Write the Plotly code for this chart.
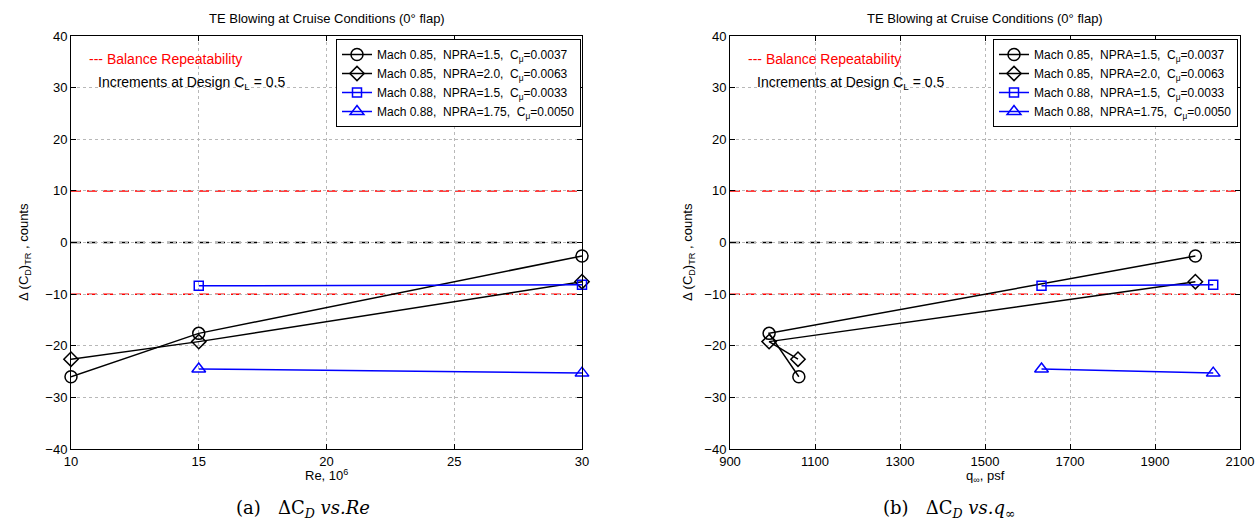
import plotly.graph_objects as go

W, H = 1256, 531

# ---- data ----
re_circle = [10, 15, 30]
q_circle = [1062, 992, 1995]
dcd_circle = [-26.0, -17.6, -2.6]

re_diamond = [10, 15, 30]
q_diamond = [1060, 992, 1995]
dcd_diamond = [-22.6, -19.2, -7.6]

re_square = [15, 30]
q_square = [1633, 2037]
dcd_square = [-8.4, -8.2]

re_tri = [15, 30]
q_tri = [1633, 2037]
dcd_tri = [-24.5, -25.3]

names = [
    "Mach 0.85,  NPRA=1.5,  C<sub>μ</sub>=0.0037",
    "Mach 0.85,  NPRA=2.0,  C<sub>μ</sub>=0.0063",
    "Mach 0.88,  NPRA=1.5,  C<sub>μ</sub>=0.0033",
    "Mach 0.88,  NPRA=1.75,  C<sub>μ</sub>=0.0050",
]
re_ticks = [10, 15, 20, 25, 30]
q_ticks = [900, 1100, 1300, 1500, 1700, 1900, 2100]
y_ticks = [-40, -30, -20, -10, 0, 10, 20, 30, 40]
ref_black = [0]
ref_red = [-10, 10]

FONT = "Liberation Sans, Arial, sans-serif"
SERIF = "DejaVu Serif, serif"

# plot-area pixel boxes
L1, R1 = 71, 582
L2, R2 = 730, 1240
TOP, BOT = 36, 449

def px(x):
    return x / W

def py(y):
    return 1 - y / H

fig = go.Figure()

series = [
    (re_circle, q_circle, dcd_circle, "circle-open", "black", 12),
    (re_diamond, q_diamond, dcd_diamond, "diamond-open", "black", 11),
    (re_square, q_square, dcd_square, "square-open", "blue", 9),
    (re_tri, q_tri, dcd_tri, "triangle-up-open", "blue", 12),
]

for i, (re, q, d, sym, col, sz) in enumerate(series):
    fig.add_trace(go.Scatter(
        x=re, y=d, mode="lines+markers", name=names[i], cliponaxis=False,
        line=dict(color=col, width=1.5),
        marker=dict(symbol=sym, size=sz, color=col, line=dict(width=1.5, color=col)),
        xaxis="x", yaxis="y", legend="legend"))
for i, (re, q, d, sym, col, sz) in enumerate(series):
    fig.add_trace(go.Scatter(
        x=q, y=d, mode="lines+markers", name=names[i], cliponaxis=False,
        line=dict(color=col, width=1.5),
        marker=dict(symbol=sym, size=sz, color=col, line=dict(width=1.5, color=col)),
        xaxis="x2", yaxis="y2", legend="legend2"))

shapes = []
for xr, yr in (("x domain", "y"), ("x2 domain", "y2")):
    for v in ref_black:
        shapes.append(dict(type="line", xref=xr, yref=yr, x0=0, x1=1, y0=v, y1=v,
                           line=dict(color="black", width=1.5, dash="10px,6px"), layer="below"))
    for v in ref_red:
        shapes.append(dict(type="line", xref=xr, yref=yr, x0=0, x1=1, y0=v, y1=v,
                           line=dict(color="red", width=1.5, dash="10px,6px"), layer="below"))

axis_common = dict(
    showline=True, linecolor="black", linewidth=1, mirror="ticks",
    ticks="inside", ticklen=5, tickcolor="black",
    showgrid=True, gridcolor="#b8b8b8", griddash="dot", gridwidth=1,
    zeroline=False, automargin=False,
    tickfont=dict(family=FONT, size=13, color="black"),
)

fig.update_layout(
    template="none",
    width=W, height=H,
    margin=dict(l=0, r=0, t=0, b=0, autoexpand=False),
    paper_bgcolor="white", plot_bgcolor="white",
    font=dict(family=FONT, color="black"),
    xaxis=dict(domain=[px(L1), px(R1)], range=[10, 30], tickvals=re_ticks, anchor="y", **axis_common),
    yaxis=dict(domain=[py(BOT), py(TOP)], range=[-40, 40], tickvals=y_ticks, anchor="x", **axis_common),
    xaxis2=dict(domain=[px(L2), px(R2)], range=[900, 2100], tickvals=q_ticks, anchor="y2", **axis_common),
    yaxis2=dict(domain=[py(BOT), py(TOP)], range=[-40, 40], tickvals=y_ticks, anchor="x2", **axis_common),
    shapes=shapes,
    legend=dict(x=px(581), y=py(39), xanchor="right", yanchor="top",
                bordercolor="black", borderwidth=1, bgcolor="white",
                font=dict(family=FONT, size=12, color="black"), tracegroupgap=0,
                itemwidth=30),
    legend2=dict(x=px(1238), y=py(39), xanchor="right", yanchor="top",
                 bordercolor="black", borderwidth=1, bgcolor="white",
                 font=dict(family=FONT, size=12, color="black"), tracegroupgap=0,
                 itemwidth=30),
)

def A(text, x, y, size=13, color="black", family=FONT, xanchor="center", angle=0):
    return dict(text=text, x=px(x), y=py(y), xref="paper", yref="paper", showarrow=False,
                xanchor=xanchor, yanchor="middle", textangle=angle,
                font=dict(family=family, size=size, color=color))

ann = []
for L, R in ((L1, R1), (L2, R2)):
    cx = (L + R) / 2
    ann.append(A("TE Blowing at Cruise Conditions (0° flap)", cx, 18))
    ann.append(A("--- Balance Repeatability", L + 16, 59, size=14, color="red", xanchor="left"))
    ann.append(A("Increments at Design C<sub>L</sub> = 0.5", L + 25, 83, size=14, xanchor="left"))
for x in (24, 688):
    ann.append(A("Δ (C<sub>D</sub>)<sub>TR</sub> , counts", x, 252, angle=-90))
ann.append(A("Re, 10<sup>6</sup>", (L1 + R1) / 2, 475))
ann.append(A("q<sub>∞</sub>, psf", (L2 + R2) / 2, 476))
ann.append(A("(a)&nbsp;&nbsp;&nbsp;ΔC<sub><i>D</i></sub>&nbsp;<i>vs.Re</i>", 303, 509, size=18, family=SERIF))
ann.append(A("(b)&nbsp;&nbsp;&nbsp;ΔC<sub><i>D</i></sub>&nbsp;<i>vs.q</i><sub>∞</sub>", 949, 509, size=18, family=SERIF))
fig.update_layout(annotations=ann)

fig.write_html("out.html", config={"displayModeBar": False},
               post_script="document.body.style.margin='0';")
